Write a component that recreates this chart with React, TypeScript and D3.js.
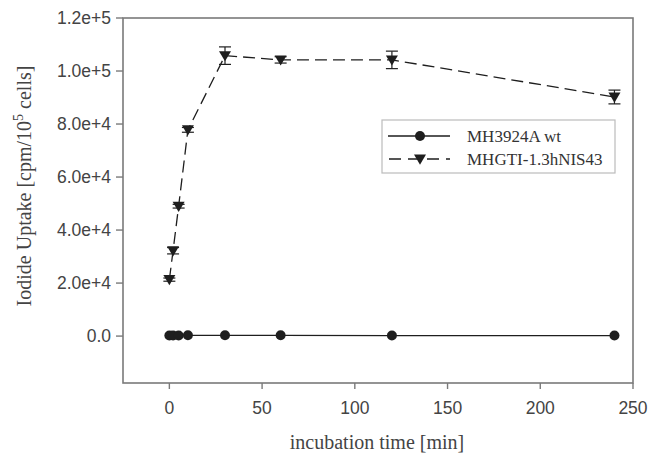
import React from "react";
import * as d3 from "d3";

const times = [0, 2, 5, 10, 30, 60, 120, 240];
const wtValues = [200, 200, 200, 300, 300, 300, 200, 200];
const nisValues = [21300, 32200, 49000, 77800, 105800, 104200, 104200, 90200];
const nisErrors = [600, 1200, 700, 900, 3300, 1200, 3300, 2600];
const yTicks = [0, 20000, 40000, 60000, 80000, 100000, 120000];
const yTickLabels = ["0.0", "2.0e+4", "4.0e+4", "6.0e+4", "8.0e+4", "1.0e+5", "1.2e+5"];
const xTicks = [0, 50, 100, 150, 200, 250];
const seriesNames = ["MH3924A wt", "MHGTI-1.3hNIS43"];

const W = 651;
const H = 458;
const left = 123, right = 633, top = 18, bottom = 383;

export default function App() {
  const x = d3.scaleLinear().domain([-25, 250]).range([left, right]);
  const y = d3.scaleLinear().domain([-17700, 120000]).range([bottom, top]);
  const wtPath = d3.line<number>().x((_, i) => x(times[i])).y((v) => y(v))(wtValues) || "";
  const nisPath = d3.line<number>().x((_, i) => x(times[i])).y((v) => y(v))(nisValues) || "";
  const axisColor = "#7a7a7a";
  const markColor = "#1e1e1e";
  const tri = (cx: number, cy: number, s = 6) =>
    `M${cx - s},${cy - s * 0.75}L${cx + s},${cy - s * 0.75}L${cx},${cy + s * 0.95}Z`;
  const serif = "'Liberation Serif', 'Times New Roman', serif";
  const sans = "'Liberation Sans', Arial, sans-serif";

  return (
    <svg width={W} height={H} style={{ position: "absolute", left: 0, top: 0, background: "#fff" }}>
      <rect x={0} y={0} width={W} height={H} fill="#fff" />
      <rect x={left} y={top} width={right - left} height={bottom - top} fill="none" stroke={axisColor} strokeWidth={1.6} />
      {yTicks.map((t, i) => (
        <g key={"y" + t}>
          <line x1={left - 7} x2={left} y1={y(t)} y2={y(t)} stroke={axisColor} strokeWidth={1.4} />
          <text x={left - 12} y={y(t)} dy="0.36em" textAnchor="end" fontFamily={sans} fontSize={17.5} fill="#444">
            {yTickLabels[i]}
          </text>
        </g>
      ))}
      {xTicks.map((t) => (
        <g key={"x" + t}>
          <line x1={x(t)} x2={x(t)} y1={bottom} y2={bottom + 6} stroke={axisColor} strokeWidth={1.4} />
          <text x={x(t)} y={414} textAnchor="middle" fontFamily={sans} fontSize={17.5} fill="#444">
            {t}
          </text>
        </g>
      ))}
      <text x={377} y={449} textAnchor="middle" fontFamily={serif} fontSize={20} fill="#444">
        incubation time [min]
      </text>
      <text transform={`translate(31,186) rotate(-90)`} textAnchor="middle" fontFamily={serif} fontSize={20} fill="#444">
        Iodide Uptake [cpm/10<tspan dy={-8} fontSize={14}>5</tspan><tspan dy={8}> cells]</tspan>
      </text>
      <path d={wtPath} fill="none" stroke={markColor} strokeWidth={1.3} />
      {wtValues.map((v, i) => (
        <circle key={"c" + i} cx={x(times[i])} cy={y(v)} r={5} fill={markColor} />
      ))}
      <path d={nisPath} fill="none" stroke={markColor} strokeWidth={1.3} strokeDasharray="12,6" />
      {nisValues.map((v, i) => {
        const cx = x(times[i]);
        const y1 = y(v + nisErrors[i]);
        const y2 = y(v - nisErrors[i]);
        return (
          <g key={"t" + i}>
            <line x1={cx} x2={cx} y1={y1} y2={y2} stroke={markColor} strokeWidth={1.2} />
            <line x1={cx - 6} x2={cx + 6} y1={y1} y2={y1} stroke={markColor} strokeWidth={1.2} />
            <line x1={cx - 6} x2={cx + 6} y1={y2} y2={y2} stroke={markColor} strokeWidth={1.2} />
            <path d={tri(cx, y(v))} fill={markColor} />
          </g>
        );
      })}
      <rect x={382} y={120} width={233} height={53} fill="#fff" stroke="#bbb" strokeWidth={1.2} />
      <line x1={388} x2={450} y1={136} y2={136} stroke={markColor} strokeWidth={1.3} />
      <circle cx={420} cy={136} r={5} fill={markColor} />
      <line x1={388} x2={450} y1={159} y2={159} stroke={markColor} strokeWidth={1.3} strokeDasharray="12,7" strokeDashoffset={-1} />
      <path d={tri(420, 159)} fill={markColor} />
      <text x={467} y={136} dy="0.35em" fontFamily={serif} fontSize={17} fill="#333">{seriesNames[0]}</text>
      <text x={467} y={159} dy="0.35em" fontFamily={serif} fontSize={17} fill="#333">{seriesNames[1]}</text>
    </svg>
  );
}
